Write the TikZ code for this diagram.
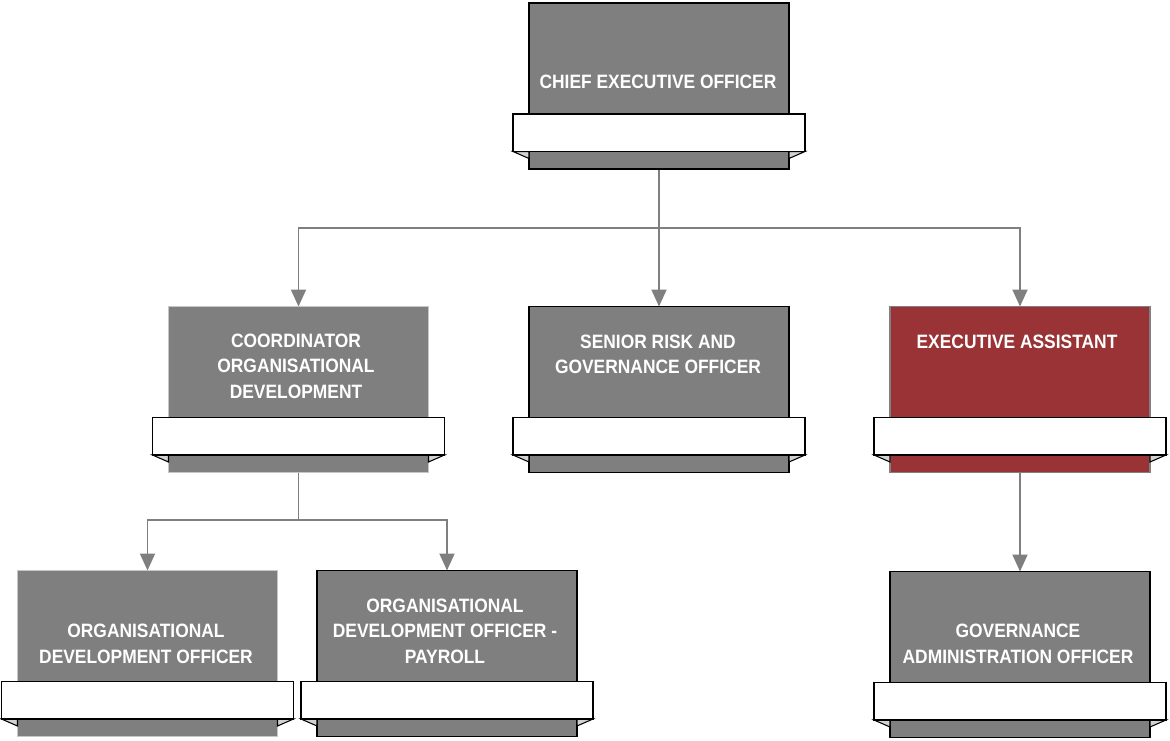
\documentclass[tikz,border=0pt]{standalone}
\usepackage{fontspec}
\setmainfont{Liberation Sans}[FakeStretch=0.9]
\usepackage{tikz}
\usetikzlibrary{arrows.meta}
\pgfdeclarelayer{bg}
\pgfsetlayers{bg,main}
\definecolor{postgray}{RGB}{127,127,127}
\definecolor{postred}{RGB}{153,51,54}
\definecolor{foldgray}{RGB}{210,210,210}
\tikzset{
  post/.style={rectangle, fill=postgray, draw=black, line width=0.6pt,
    minimum width=5.2cm, minimum height=3.32cm, inner sep=0pt, outer sep=0pt},
  soft/.style={draw=gray!45},
  txt/.style={text=white, align=center, inner sep=0pt,
    font=\fontsize{11}{14.5}\selectfont\bfseries},
  band/.style={fill=white, draw=black, line width=0.8pt},
  fold/.style={fill=foldgray, draw=black, line width=0.6pt},
  conn/.style={draw=postgray, line width=1.1pt,
    -{Triangle[width=0.3cm,length=0.34cm]}},
}
% white name band with folded ends across the lower part of a post
\newcommand\ribbon[1]{%
  \filldraw[fold] ([xshift=-0.32cm,yshift=-2.97cm]#1.north west)
    -- ([yshift=-3.11cm]#1.north west) -- ([yshift=-2.97cm]#1.north west) -- cycle;
  \filldraw[fold] ([xshift=0.32cm,yshift=-2.97cm]#1.north east)
    -- ([yshift=-3.11cm]#1.north east) -- ([yshift=-2.97cm]#1.north east) -- cycle;
  \draw[band] ([xshift=-0.32cm,yshift=-2.22cm]#1.north west)
    rectangle ([xshift=0.32cm,yshift=-2.97cm]#1.north east);
}
\begin{document}
\begin{tikzpicture}
        \useasboundingbox (0cm, 0cm) rectangle (23.4cm, -14.8cm);
        \node (b0) [post] at (13.18cm, -1.72cm) {};
        \node (b1) [post, soft] at (5.97cm, -7.79cm) {};
        \node (b2) [post] at (13.18cm, -7.79cm) {};
        \node (b3) [post, fill=postred, draw=gray] at (20.40cm, -7.79cm) {};
        \node (b4) [post, soft] at (2.95cm, -13.07cm) {};
        \node (b5) [post] at (8.94cm, -13.07cm) {};
        \node (b6) [post] at (20.40cm, -13.09cm) {};
        \ribbon{b0}
        \ribbon{b1}
        \ribbon{b2}
        \ribbon{b3}
        \ribbon{b4}
        \ribbon{b5}
        \ribbon{b6}
        \node (t0) [txt] at (13.16cm, -1.64cm) {CHIEF EXECUTIVE OFFICER};
        \node (t1) [txt] at (5.92cm, -7.32cm) {COORDINATOR\\ORGANISATIONAL\\DEVELOPMENT};
        \node (t2) [txt] at (13.16cm, -7.09cm) {SENIOR RISK AND\\GOVERNANCE OFFICER};
        \node (t3) [txt] at (20.34cm, -6.83cm) {EXECUTIVE ASSISTANT};
        \node (t4) [txt] at (2.92cm, -12.88cm) {ORGANISATIONAL\\DEVELOPMENT OFFICER};
        \node (t5) [txt] at (8.90cm, -12.62cm) {ORGANISATIONAL\\DEVELOPMENT OFFICER -\\PAYROLL};
        \node (t6) [txt] at (20.36cm, -12.88cm) {GOVERNANCE\\ADMINISTRATION OFFICER};
        \coordinate (j0) at (13.18cm, -4.56cm);
        \coordinate (j1) at (5.97cm, -10.40cm);
        \begin{pgfonlayer}{bg}
                \draw[conn] (b0.south) -- (j0) -| (b1.north);
                \draw[conn] (b0.south) -- (b2.north);
                \draw[conn] (b0.south) -- (j0) -| (b3.north);
                \draw[conn] (b1.south) -- (j1) -| (b4.north);
                \draw[conn] (b1.south) -- (j1) -| (b5.north);
                \draw[conn] (b3.south) -- (b6.north);
        \end{pgfonlayer}
\end{tikzpicture}
\end{document}
